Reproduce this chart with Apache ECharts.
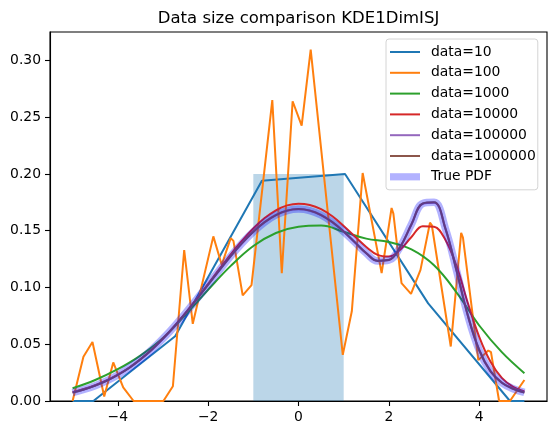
<!DOCTYPE html>
<html>
<head>
<meta charset="utf-8">
<script src="https://cdn.jsdelivr.net/npm/echarts@6/dist/echarts.min.js"></script>
<style>
html,body{margin:0;padding:0;background:#fff;}
#chart{width:556px;height:435px;}
</style>
</head>
<body>
<div id="chart"></div>
<script>
// ---- data ----
const titleText = 'Data size comparison KDE1DimISJ';
const xTicks = [-4, -2, 0, 2, 4];
const yTicks = [0, 0.05, 0.10, 0.15, 0.20, 0.25, 0.30];

// histogram bar (edges + height)
const histLeft = [-1];
const histRight = [1];
const histHeight = [0.2];

// data=10 (piecewise linear)
const x10 = [-5, -4.54, -2.73, -0.81, 1.03, 2.87, 4.68, 5];
const y10 = [0, 0, 0.057, 0.194, 0.2, 0.086, 0, 0];

// data=100 (jagged)
const x100 = [-5.0, -4.76, -4.56, -4.30, -4.10, -3.88, -3.65, -2.99, -2.78, -2.53, -2.34, -1.885, -1.70, -1.50, -1.44, -1.235, -1.04, -0.58, -0.37, -0.13, 0.07, 0.27, 0.30, 0.98, 1.18, 1.42, 1.84, 2.06, 2.10, 2.28, 2.49, 2.70, 2.91, 2.95, 3.37, 3.60, 3.64, 3.98, 4.20, 4.26, 4.44, 4.68, 5.0];
const y100 = [0.0, 0.039, 0.052, 0.004, 0.034, 0.012, 0.0, 0.0, 0.013, 0.133, 0.068, 0.145, 0.12, 0.1435, 0.141, 0.093, 0.102, 0.265, 0.1126, 0.264, 0.2425, 0.3095, 0.3095, 0.0406, 0.079, 0.2008, 0.1126, 0.170, 0.165, 0.1038, 0.0944, 0.1155, 0.157, 0.155, 0.048, 0.148, 0.144, 0.036, 0.0445, 0.043, 0.0, 0.0, 0.0185];

// data=1000 (step 0.5)
const xHalf = [-5, -4.5, -4, -3.5, -3, -2.5, -2, -1.5, -1, -0.5, 0, 0.5, 1, 1.5, 2, 2.5, 3, 3.5, 4, 4.5, 5];
const y1000 = [0.0112, 0.0185, 0.0280, 0.0400, 0.0555, 0.0760, 0.0980, 0.1190, 0.1365, 0.1480, 0.1535, 0.1545, 0.1490, 0.1430, 0.1400, 0.1335, 0.1195, 0.0955, 0.0665, 0.0430, 0.0245];

// fine grid (step 0.25)
const xFine = [-5, -4.75, -4.5, -4.25, -4, -3.75, -3.5, -3.25, -3, -2.75, -2.5, -2.25, -2, -1.75, -1.5, -1.25, -1, -0.75, -0.5, -0.25, 0, 0.25, 0.5, 0.75, 1, 1.25, 1.5, 1.75, 2, 2.25, 2.5, 2.75, 3, 3.25, 3.5, 3.75, 4, 4.25, 4.5, 4.75, 5];
const y10000 = [0.0078, 0.0105, 0.0139, 0.0181, 0.0232, 0.0293, 0.0367, 0.0452, 0.0550, 0.0658, 0.0776, 0.0902, 0.1032, 0.1163, 0.1292, 0.1412, 0.1520, 0.1611, 0.1680, 0.1723, 0.1738, 0.1727, 0.1690, 0.1627, 0.1542, 0.1448, 0.1357, 0.1287, 0.1272, 0.1333, 0.1445, 0.1540, 0.1535, 0.1420, 0.1185, 0.0860, 0.0565, 0.0345, 0.0203, 0.0124, 0.0083];
const y100000 = [0.0075, 0.0102, 0.0136, 0.0178, 0.0230, 0.0291, 0.0366, 0.0451, 0.0549, 0.0657, 0.0774, 0.0898, 0.1025, 0.1152, 0.1276, 0.1390, 0.1491, 0.1575, 0.1638, 0.1677, 0.1690, 0.1677, 0.1638, 0.1575, 0.1492, 0.1397, 0.1302, 0.1236, 0.1243, 0.1357, 0.1555, 0.1738, 0.1748, 0.1521, 0.1146, 0.0752, 0.0449, 0.0263, 0.0162, 0.0109, 0.0076];
const y1000000 = [0.0074, 0.0101, 0.0135, 0.0177, 0.0229, 0.0291, 0.0366, 0.0451, 0.0549, 0.0657, 0.0774, 0.0898, 0.1025, 0.1152, 0.1276, 0.1390, 0.1491, 0.1575, 0.1638, 0.1677, 0.1690, 0.1677, 0.1638, 0.1575, 0.1492, 0.1397, 0.1302, 0.1234, 0.1241, 0.1357, 0.1556, 0.1740, 0.1750, 0.1521, 0.1145, 0.0750, 0.0447, 0.0261, 0.0161, 0.0108, 0.0075];
const yTrue = [0.0074, 0.0101, 0.0135, 0.0177, 0.0229, 0.0291, 0.0366, 0.0451, 0.0549, 0.0657, 0.0774, 0.0898, 0.1025, 0.1152, 0.1276, 0.1390, 0.1491, 0.1575, 0.1638, 0.1677, 0.1690, 0.1677, 0.1638, 0.1575, 0.1492, 0.1397, 0.1302, 0.1234, 0.1241, 0.1357, 0.1556, 0.1740, 0.1750, 0.1521, 0.1145, 0.0750, 0.0447, 0.0261, 0.0161, 0.0108, 0.0075];

const seriesNames = ['data=10', 'data=100', 'data=1000', 'data=10000', 'data=100000', 'data=1000000', 'True PDF'];

// ---- build ----
const zip = (xs, ys) => xs.map((x, i) => [x, ys[i]]);
const FONT = 'DejaVu Sans';
const fmtMinus = v => (v < 0 ? '\u2212' + Math.abs(v) : String(v));
const TRUE_COLOR = 'rgba(0,0,255,0.3)';

const lineSeries = (name, data, color, width, smooth) => ({
  name, type: 'line', data, showSymbol: false, symbol: 'none', smooth: smooth,
  lineStyle: { color, width }, itemStyle: { color }, z: 3
});

const legendData = seriesNames.map(n => n === 'True PDF'
  ? { name: n, icon: 'path://M0,0 M30,14 M0,3.4 L30,3.4 L30,10.6 L0,10.6 Z', itemStyle: { opacity: 1, color: TRUE_COLOR } }
  : { name: n });

const chart = echarts.init(document.getElementById('chart'), null, { renderer: 'canvas' });
chart.setOption({
  animation: false,
  backgroundColor: '#fff',
  title: {
    text: titleText, left: 298.5, top: 10, textAlign: 'center', padding: 0,
    textStyle: { fontFamily: FONT, fontSize: 16.5, fontWeight: 'normal', color: '#000' }
  },
  grid: { left: 50, right: 9, top: 32, bottom: 34, show: true, borderColor: '#000', borderWidth: 1.1, backgroundColor: 'transparent' },
  legend: {
    orient: 'vertical', left: 386, top: 39, selectedMode: false,
    data: legendData,
    itemWidth: 30, itemHeight: 14, itemGap: 6.8,
    padding: [6, 2, 6, 3],
    itemStyle: { opacity: 0 },
    backgroundColor: 'rgba(255,255,255,0.8)', borderColor: '#d4d4d4', borderWidth: 1, borderRadius: 3,
    textStyle: { fontFamily: FONT, fontSize: 13.9, color: '#000', padding: [0, 0, 0, 6] }
  },
  xAxis: {
    type: 'value', min: -5.5, max: 5.5,
    splitLine: { show: false },
    axisLine: { show: true, onZero: false, lineStyle: { color: '#000', width: 1.1 } },
    axisTick: { show: true, inside: false, length: 5, customValues: xTicks, lineStyle: { color: '#000', width: 1.1 } },
    axisLabel: { customValues: xTicks, margin: 9, formatter: fmtMinus, fontFamily: FONT, fontSize: 13.9, color: '#000' }
  },
  yAxis: {
    type: 'value', min: 0, max: 0.325,
    splitLine: { show: false },
    axisLine: { show: true, onZero: false, lineStyle: { color: '#000', width: 1.1 } },
    axisTick: { show: true, inside: false, length: 5, customValues: yTicks, lineStyle: { color: '#000', width: 1.1 } },
    axisLabel: { customValues: yTicks, margin: 9, formatter: v => v.toFixed(2), fontFamily: FONT, fontSize: 13.9, color: '#000' }
  },
  series: [
    {
      name: 'hist', type: 'custom', z: 1,
      data: histLeft.map((l, i) => [l, histRight[i], histHeight[i]]),
      encode: { x: [0, 1], y: 2 },
      renderItem: (params, api) => {
        const p0 = api.coord([api.value(0), api.value(2)]);
        const p1 = api.coord([api.value(1), 0]);
        return { type: 'rect', shape: { x: p0[0], y: p0[1], width: p1[0] - p0[0], height: p1[1] - p0[1] },
                 style: { fill: 'rgba(31,119,180,0.3)' } };
      }
    },
    lineSeries('data=10', zip(x10, y10), '#1f77b4', 2, false),
    lineSeries('data=100', zip(x100, y100), '#ff7f0e', 2, false),
    lineSeries('data=1000', zip(xHalf, y1000), '#2ca02c', 2, 0.4),
    lineSeries('data=10000', zip(xFine, y10000), '#d62728', 2, 0.4),
    lineSeries('data=100000', zip(xFine, y100000), '#9467bd', 2.2, 0.4),
    lineSeries('data=1000000', zip(xFine, y1000000), '#8c564b', 2, 0.4),
    lineSeries('True PDF', zip(xFine, yTrue), TRUE_COLOR, 7.5, 0.4)
  ]
});
</script>
</body>
</html>
